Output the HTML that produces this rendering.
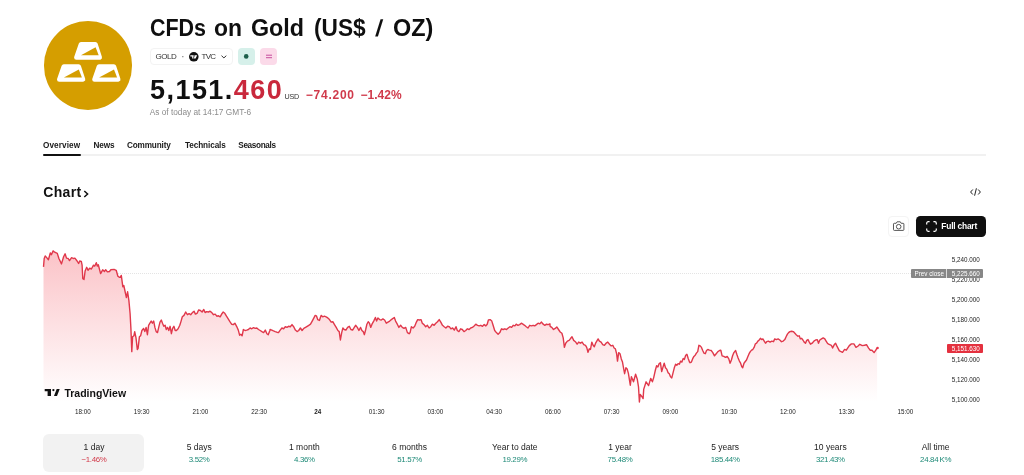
<!DOCTYPE html>
<html lang="en">
<head>
<meta charset="utf-8">
<title>CFDs on Gold (US$ / OZ)</title>
<style>
*{box-sizing:border-box;margin:0;padding:0}
html,body{width:1024px;height:475px;overflow:hidden;background:#fff}
body{font-family:"Liberation Sans",sans-serif;color:#131722;position:relative}
.t,.a{position:absolute;white-space:nowrap}
svg{position:absolute;overflow:visible}
</style>
</head>
<body>
<div class="a" style="left:43.500px;top:21.300px;width:88.700px;height:88.700px;border-radius:50%;background:#d59e00"></div>
<svg style="left:43.600px;top:21px" width="90" height="90" viewBox="0 0 90 90">
<g fill="#fff" stroke="#fff" stroke-width="4.600" stroke-linejoin="round">
<path d="M37 23.200H51.400L55.700 36.500H32.400Z"/>
<path d="M19.800 45.600H34.700L39 58.400H15.300Z"/>
<path d="M55 45.600H69.900L74.200 58.400H50.500Z"/>
</g>
<g fill="#d59e00">
<path d="M37 34.300L51.600 26.200L54.700 34.300Z"/>
<path d="M19.900 56.400L34.800 48.600L37.900 56.400Z"/>
<path d="M55.100 56.400L70 48.600L73.100 56.400Z"/>
</g>
</svg>
<h1 class="t" style="left:0;top:13.33px;width:600px;height:30px;font-size:23px;line-height:30px;font-weight:700;color:#0f0f0f"><span style="position:absolute;left:149.75px;top:0;transform:scaleX(0.933);transform-origin:0 50%">CFDs</span> <span style="position:absolute;left:214.20px;top:0;transform:scaleX(0.996);transform-origin:0 50%">on</span> <span style="position:absolute;left:250.99px;top:0;transform:scaleX(1.013);transform-origin:0 50%">Gold</span> <span style="position:absolute;left:314.41px;top:0;transform:scaleX(0.985);transform-origin:0 50%">(US$</span> <span style="position:absolute;left:376.300px;top:0;transform:skewX(-7deg);transform-origin:50% 50%">/</span> <span style="position:absolute;left:392.69px;top:0;transform:scaleX(1.018);transform-origin:0 50%">OZ)</span></h1>
<div class="a" style="left:150px;top:47.500px;width:82.500px;height:17.500px;border:1px solid #f3f3f3;border-radius:4px"></div>
<div class="t" style="left:155.5px;top:51.23px;font-size:8px;line-height:11px;font-weight:400;color:#333;letter-spacing:-0.5px;">GOLD</div>
<div class="t" style="left:181.8px;top:51.33px;font-size:7.7px;line-height:11px;font-weight:700;color:#777;">·</div>
<svg style="left:189.100px;top:51.500px" width="9.600" height="9.600" viewBox="0 0 10 10"><circle cx="5" cy="5" r="5" fill="#111"/><path d="M1.400 3.500H4.600V6.900H3.300V4.700H1.400ZM6.300 3.500H8.500L6.900 6.900H4.900Z" fill="#fff"/><circle cx="5.250" cy="4.100" r=".600" fill="#fff"/></svg>
<div class="t" style="left:201.6px;top:51.23px;font-size:8px;line-height:11px;font-weight:400;color:#333;letter-spacing:-0.75px;">TVC</div>
<svg style="left:221.400px;top:54.800px" width="6" height="4" viewBox="0 0 6 4"><path d="M0.500 0.700L2.900 2.900L5.300 0.700" fill="none" stroke="#333" stroke-width="1"/></svg>
<div class="a" style="left:237.700px;top:47.500px;width:17.500px;height:17.500px;border-radius:4px;background:#d6f0ea"></div>
<svg style="left:243px;top:53px" width="7" height="7" viewBox="0 0 7 7"><circle cx="3.200" cy="3.400" r="2.300" fill="#1d5f4b"/></svg>
<div class="a" style="left:259.800px;top:47.500px;width:17.500px;height:17.500px;border-radius:4px;background:#fbdae9"></div>
<svg style="left:265.500px;top:54px" width="6" height="5" viewBox="0 0 6 5"><path d="M0 1.200H6M0 3.700H6" stroke="#c4479a" stroke-width="0.950"/></svg>
<div class="t" style="left:150px;top:71.54px;font-size:27px;line-height:36px;font-weight:700;color:#0f0f0f;letter-spacing:1.45px;">5,151.<span style="color:#c9283c">460</span></div>
<div class="t" style="left:284.6px;top:92.31px;font-size:7.2px;line-height:10px;font-weight:400;color:#333;letter-spacing:-0.25px;">USD</div>
<div class="t" style="left:305.8px;top:86.74px;font-size:12px;line-height:16px;font-weight:700;color:#d03a4b;"><span style="letter-spacing:.75px">−74.200</span> <span style="position:absolute;left:54.600px;top:0;letter-spacing:.05px">−1.42%</span></div>
<div class="t" style="left:149.7px;top:106.82px;font-size:8.3px;line-height:11px;font-weight:400;color:#8c8c8c;">As of today at 14:17 GMT-6</div>
<div class="t" style="left:43px;top:139.66px;font-size:8.2px;line-height:11px;font-weight:700;color:#1a1a1a;letter-spacing:0.1px;">Overview</div>
<div class="t" style="left:93.5px;top:139.66px;font-size:8.2px;line-height:11px;font-weight:700;color:#1a1a1a;letter-spacing:-0.15px;">News</div>
<div class="t" style="left:127px;top:139.66px;font-size:8.2px;line-height:11px;font-weight:700;color:#1a1a1a;letter-spacing:-0.15px;">Community</div>
<div class="t" style="left:185px;top:139.66px;font-size:8.2px;line-height:11px;font-weight:700;color:#1a1a1a;letter-spacing:-0.1px;">Technicals</div>
<div class="t" style="left:238.3px;top:139.66px;font-size:8.2px;line-height:11px;font-weight:700;color:#1a1a1a;letter-spacing:-0.35px;">Seasonals</div>
<div class="a" style="left:43px;top:154px;width:943px;height:2px;background:#f1f1f1"></div>
<div class="a" style="left:43px;top:154px;width:37.500px;height:2px;background:#111;border-radius:1px"></div>
<div class="t" style="left:43.3px;top:183.05px;font-size:14px;line-height:19px;font-weight:700;color:#111;letter-spacing:0.3px;">Chart</div>
<svg style="left:83px;top:190px" width="6" height="8" viewBox="0 0 6 8"><path d="M1.300 1L4.600 4L1.300 7" fill="none" stroke="#111" stroke-width="1.500"/></svg>
<svg style="left:970px;top:188px" width="11" height="8" viewBox="0 0 11 8"><path d="M2.800 1.500L0.600 4L2.800 6.500M8.200 1.500L10.400 4L8.200 6.500M6.400 0.300L4.600 7.700" fill="none" stroke="#222" stroke-width="1"/></svg>
<div class="a" style="left:888.200px;top:215.600px;width:20.800px;height:21px;border:1px solid #f4f4f4;border-radius:4px"></div>
<svg style="left:893px;top:221px" width="11.400" height="10" viewBox="0 0 11.400 10"><path d="M1.300 2.300h1.900l.9-1.500h3.200l.9 1.500h1.900a.8.800 0 0 1 .8.800v5.500a.8.800 0 0 1-.8.800H1.300a.8.800 0 0 1-.8-.8V3.100a.8.800 0 0 1 .8-.8z" fill="none" stroke="#444" stroke-width="0.900"/><circle cx="5.700" cy="5.700" r="2.300" fill="none" stroke="#444" stroke-width="0.900"/></svg>
<div class="a" style="left:915.800px;top:215.600px;width:70.200px;height:21px;border-radius:4.500px;background:#0f0f0f"></div>
<svg style="left:925.800px;top:220.800px" width="11" height="11" viewBox="0 0 11 11"><path d="M0.700 3.600V2.200A1.500 1.500 0 0 1 2.200 0.700H3.600M7.400 0.700h1.400A1.500 1.500 0 0 1 10.300 2.200V3.600M10.300 7.400v1.400A1.500 1.500 0 0 1 8.800 10.300H7.400M3.600 10.300H2.200A1.500 1.500 0 0 1 0.700 8.800V7.400" fill="none" stroke="#fff" stroke-width="1.200"/></svg>
<div class="t" style="left:941.3px;top:220.59px;font-size:8.4px;line-height:11px;font-weight:700;color:#fff;letter-spacing:-0.2px;">Full chart</div>
<svg style="left:0;top:240px" width="1024" height="165" viewBox="0 240 1024 165">
<defs><linearGradient id="g" x1="0" y1="250" x2="0" y2="402" gradientUnits="userSpaceOnUse"><stop offset="0" stop-color="#f23645" stop-opacity="0.30"/><stop offset="1" stop-color="#f23645" stop-opacity="0"/></linearGradient></defs>
<line x1="118" y1="273.500" x2="911" y2="273.500" stroke="#e4e4e4" stroke-width="1" stroke-dasharray="1 1"/>
<path d="M43.5 266.9 L44.2 258.5 L45.2 255.9 L46.7 257.6 L48.4 259.7 L50.3 253 L51.4 254.7 L53.1 250.9 L54.7 252.2 L57.3 253.4 L58.9 258.5 L61.5 263.9 L63.6 256.8 L65.1 253.8 L66.5 258.1 L68.2 258.5 L69.5 260.6 L71.6 257.6 L73.3 258.5 L74.9 258.1 L77.1 261 L78.6 263.5 L79.7 261 L81.3 261.4 L82.1 265.2 L82.8 278.7 L84 279.5 L85.1 271.1 L86.7 267.3 L88 270.3 L89.7 268.2 L91.4 269 L93.5 265.2 L94.7 266.1 L96.3 262.7 L97.3 266.1 L98.3 264.8 L100.6 273.6 L102.7 269.8 L104.4 271.5 L105.7 269.8 L107.4 271.9 L109.5 271.5 L110.7 269.8 L114.1 269.4 L116.2 270.3 L117.9 276.2 L119.6 277.4 L120.3 277.4 L121.3 275.4 L122.8 286.7 L123.8 285.5 L125.4 293.0 L126.4 297.6 L127.6 291.8 L128.9 300.6 L130.1 313.7 L130.9 328.4 L131.8 351.6 L132.6 336.8 L133.9 335.8 L134.7 331.6 L136.0 337.9 L137.3 349.5 L138.1 348.4 L139.4 336.8 L140.6 335.8 L141.9 330.5 L143.6 328.4 L144.8 331.6 L146.1 327.4 L147.4 334.7 L148.6 325.3 L149.9 323.2 L151.2 321.1 L152.4 323.2 L153.7 321.1 L154.9 327.4 L156.2 331.6 L157.5 332.6 L158.7 327.4 L160.0 322.1 L161.3 320.0 L162.5 323.2 L163.8 326.3 L165.1 325.3 L166.3 329.5 L167.6 327.4 L168.8 330.5 L170.1 326.3 L171.4 333.7 L172.6 328.4 L173.9 326.3 L175.2 330.5 L176.4 330.5 L178.1 328.8 L179.8 325.3 L181.1 321.1 L182.3 316.8 L184.0 315.4 L185.7 312.0 L187.4 314.7 L189.1 313.7 L190.7 314.7 L192.4 312.6 L194.1 311.2 L195.4 314.1 L197.1 313.3 L198.7 309.9 L200.4 310.5 L202.1 312.0 L203.8 309.5 L205.1 312.6 L206.7 311.6 L208.4 312.0 L210.1 311.2 L211.8 312.6 L213.5 314.7 L215.2 314.1 L216.8 316.2 L218.5 315.8 L220.2 316.8 L221.9 313.7 L223.2 312.0 L224.8 313.3 L226.5 316.2 L228.2 318.9 L229.9 321.7 L231.6 324.2 L233.3 324.6 L234.9 323.2 L236.6 326.3 L238.3 330.1 L239.6 335.2 L240.8 334.3 L242.1 335.8 L243.4 329.5 L245.1 330.5 L246.7 330.1 L248.4 329.5 L250.1 328.0 L251.8 328.8 L253.5 327.6 L255.2 328.4 L256.8 328.0 L258.5 329.5 L260.2 330.5 L261.9 331.6 L263.6 332.6 L265.3 330.1 L266.9 333.7 L268.2 334.7 L269.9 330.5 L270.1 329.5 L271.8 330.1 L273.5 330.9 L275.2 331.6 L276.8 332.2 L278.5 332.6 L280.2 330.1 L281.9 328.0 L283.6 328.8 L285.3 326.7 L286.9 327.4 L288.6 326.3 L290.3 326.7 L292.0 324.6 L293.7 326.7 L295.4 330.1 L297.1 331.6 L298.7 330.5 L300.4 328.0 L302.1 330.5 L303.8 328.4 L305.5 327.4 L307.2 326.3 L308.8 325.3 L310.5 324.2 L312.2 321.1 L313.9 317.9 L315.2 315.4 L316.4 315.8 L317.7 319.6 L319.4 320.4 L321.1 315.4 L322.7 316.8 L324.4 316.2 L326.1 316.8 L327.8 317.9 L329.5 319.6 L331.2 322.1 L332.8 321.7 L334.5 324.6 L336.2 327.4 L337.9 330.5 L339.2 331.6 L340.4 340.0 L341.7 332.6 L342.9 328.0 L344.2 329.5 L345.9 330.1 L347.6 327.4 L349.3 326.3 L350.9 329.5 L352.6 330.1 L354.3 327.4 L355.6 325.3 L357.3 327.4 L358.9 330.5 L360.6 327.4 L361.9 330.5 L363.2 331.6 L364.4 334.7 L365.7 329.5 L366.9 324.2 L368.2 321.7 L369.5 323.2 L370.7 327.4 L372.0 324.2 L373.7 321.1 L375.4 317.5 L376.6 321.1 L377.9 317.9 L379.6 319.6 L381.3 320.0 L382.9 318.9 L384.6 320.0 L386.3 323.2 L388.0 322.1 L389.7 321.1 L391.4 319.6 L393.1 318.3 L394.3 317.5 L395.6 321.1 L397.3 324.2 L398.9 327.4 L400.6 325.3 L402.3 327.4 L404.0 328.4 L405.7 327.4 L407.4 332.6 L409.1 333.7 L410.1 332.6 L411.4 326.7 L413.1 328.0 L414.7 326.3 L416.4 322.1 L417.7 319.6 L419.4 320.0 L421.1 319.6 L422.3 323.2 L424.0 324.6 L425.7 326.7 L427.4 325.3 L429.1 328.0 L430.7 326.7 L432.4 324.2 L434.1 325.3 L435.8 323.2 L437.5 321.7 L439.2 319.6 L440.8 322.1 L442.5 325.3 L444.2 326.7 L445.9 328.0 L447.6 326.3 L449.3 326.7 L450.9 328.8 L452.6 328.0 L454.3 330.1 L456.0 326.7 L457.3 330.5 L458.9 331.6 L460.6 328.8 L462.3 329.5 L464.0 331.6 L465.7 330.5 L467.4 328.8 L469.1 329.5 L470.7 328.0 L472.4 327.4 L474.1 325.9 L475.8 324.2 L477.5 325.3 L479.2 325.9 L480.8 325.3 L482.5 326.3 L484.2 324.6 L485.9 325.9 L487.2 324.2 L488.4 320.0 L490.1 319.6 L491.8 321.1 L493.1 325.3 L494.7 330.5 L496.4 332.6 L498.1 334.3 L499.8 332.6 L501.5 328.8 L503.2 329.5 L504.8 328.8 L506.5 329.5 L508.2 328.0 L509.9 326.7 L511.6 327.4 L513.3 325.3 L514.9 325.9 L516.2 324.2 L517.9 325.3 L519.6 324.6 L521.3 323.2 L522.9 324.2 L524.6 325.3 L526.3 326.7 L528.0 328.0 L529.7 325.3 L531.4 325.9 L533.1 325.3 L534.7 325.9 L536.4 324.6 L538.1 323.2 L539.8 323.8 L541.5 322.1 L543.2 324.2 L544.8 325.3 L546.5 324.2 L548.2 324.6 L549.9 323.8 L550.1 326.3 L551.8 327.4 L553.5 329.5 L555.2 328.4 L556.8 326.9 L558.5 329.5 L560.2 332.0 L561.9 333.3 L563.2 337.9 L564.4 347.4 L565.7 343.2 L567.4 341.1 L569.1 340.4 L570.7 338.3 L572.0 336.8 L573.7 340.4 L575.4 341.7 L577.1 344.2 L578.7 342.1 L580.4 343.2 L582.1 342.1 L583.8 344.6 L585.5 345.3 L586.7 347.4 L588.0 352.2 L589.3 348.8 L590.5 349.5 L591.8 342.1 L593.1 345.3 L594.3 346.7 L595.6 343.2 L596.8 341.1 L598.1 338.9 L599.4 341.1 L601.1 342.1 L602.7 344.6 L604.4 345.3 L606.1 343.2 L607.8 342.1 L609.5 344.2 L611.2 345.9 L612.8 345.3 L614.1 348.0 L615.4 348.8 L616.6 353.7 L617.5 361.1 L618.7 352.6 L620.0 353.7 L621.3 358.9 L622.5 362.1 L623.8 369.5 L624.6 373.7 L625.9 367.8 L627.2 369.1 L628.4 373.4 L630.3 385.2 L631.4 376.7 L633.5 381.8 L635.6 374.2 L637.3 379.3 L638.5 386.8 L639.4 402 L640.2 394.4 L642.1 396.9 L643.1 398.6 L643.7 389.4 L646.1 381.8 L648.6 385.6 L650.7 378.4 L652.4 381.8 L653.7 377.6 L655.4 370 L656.6 365.7 L657.9 366.9 L659.2 363.6 L660.4 362.7 L661.7 371.6 L662.9 367.4 L664.2 363.2 L665.5 367.8 L666.7 369.1 L668.0 372.6 L669.3 373.7 L670.5 376.8 L671.8 377.9 L673.1 372.6 L674.3 367.8 L675.6 364.2 L676.8 365.3 L678.1 363.6 L679.4 364.2 L680.6 361.1 L681.9 362.1 L683.2 358.5 L684.4 359.4 L685.7 355.2 L686.9 354.3 L688.2 358.5 L689.5 362.1 L690.1 362.7 L691.4 362.1 L692.6 358.9 L693.9 356.4 L695.2 355.2 L696.4 353.1 L697.7 351.6 L698.9 345.3 L700.2 345.9 L701.5 347.4 L702.7 350.5 L704.0 353.1 L705.3 353.7 L706.5 350.5 L707.8 349.5 L709.5 350.1 L711.2 350.5 L712.8 352.6 L714.5 355.8 L716.2 353.7 L717.9 351.6 L719.6 350.5 L720.8 350.1 L722.1 355.8 L723.8 356.4 L725.5 357.3 L727.2 356.4 L728.8 358.9 L730.1 363.2 L731.4 360.0 L732.6 355.8 L733.9 352.6 L735.6 350.5 L736.8 354.3 L738.1 357.9 L739.4 361.1 L740.6 363.2 L741.9 366.9 L742.7 367.8 L744.0 363.2 L745.3 361.5 L746.5 360.0 L747.8 356.8 L749.1 353.7 L750.3 351.6 L751.6 350.1 L752.8 349.5 L754.1 347.4 L755.4 343.8 L756.6 343.2 L757.9 341.1 L759.2 340.0 L760.4 338.3 L761.7 339.6 L762.9 338.9 L764.2 341.1 L765.5 343.2 L766.7 341.7 L768.4 341.1 L770.1 342.1 L771.8 341.1 L773.5 341.7 L774.7 338.9 L776.4 339.6 L778.1 338.9 L779.8 340.0 L781.5 341.7 L783.2 341.1 L784.8 339.6 L786.1 336.8 L787.4 334.1 L788.6 332.6 L789.9 331.6 L791.6 331.2 L793.3 331.6 L794.9 333.3 L796.2 334.7 L797.9 336.2 L799.2 335.8 L800.4 338.9 L801.7 338.3 L802.9 340.0 L804.2 342.1 L805.5 343.2 L806.7 340.4 L808.0 339.6 L809.3 342.1 L810.5 344.2 L812.2 343.2 L813.9 341.1 L815.6 340.0 L817.3 339.6 L818.5 343.2 L819.8 340.0 L821.5 338.9 L823.2 337.9 L824.8 338.9 L826.1 341.1 L827.4 343.2 L828.6 344.2 L831.4 345.3 L832.6 348.0 L834.3 344.6 L835.6 343.2 L836.8 345.9 L838.1 348.4 L839.4 350.9 L840.0 351.1 L842.5 352.3 L844.6 349.4 L846.3 350.2 L849.3 345.6 L851.4 343.9 L853.9 343.9 L856.0 347.3 L858.1 346.0 L859.8 344.3 L862.3 345.6 L864.4 345.2 L866.5 344.7 L868.6 348.1 L870.3 350.2 L872.0 350.2 L874.1 352.6 L875.8 350.2 L877.1 347.9 L877.1 403 L43.5 403 Z" fill="url(#g)"/>
<path d="M43.5 266.9 L44.2 258.5 L45.2 255.9 L46.7 257.6 L48.4 259.7 L50.3 253 L51.4 254.7 L53.1 250.9 L54.7 252.2 L57.3 253.4 L58.9 258.5 L61.5 263.9 L63.6 256.8 L65.1 253.8 L66.5 258.1 L68.2 258.5 L69.5 260.6 L71.6 257.6 L73.3 258.5 L74.9 258.1 L77.1 261 L78.6 263.5 L79.7 261 L81.3 261.4 L82.1 265.2 L82.8 278.7 L84 279.5 L85.1 271.1 L86.7 267.3 L88 270.3 L89.7 268.2 L91.4 269 L93.5 265.2 L94.7 266.1 L96.3 262.7 L97.3 266.1 L98.3 264.8 L100.6 273.6 L102.7 269.8 L104.4 271.5 L105.7 269.8 L107.4 271.9 L109.5 271.5 L110.7 269.8 L114.1 269.4 L116.2 270.3 L117.9 276.2 L119.6 277.4 L120.3 277.4 L121.3 275.4 L122.8 286.7 L123.8 285.5 L125.4 293.0 L126.4 297.6 L127.6 291.8 L128.9 300.6 L130.1 313.7 L130.9 328.4 L131.8 351.6 L132.6 336.8 L133.9 335.8 L134.7 331.6 L136.0 337.9 L137.3 349.5 L138.1 348.4 L139.4 336.8 L140.6 335.8 L141.9 330.5 L143.6 328.4 L144.8 331.6 L146.1 327.4 L147.4 334.7 L148.6 325.3 L149.9 323.2 L151.2 321.1 L152.4 323.2 L153.7 321.1 L154.9 327.4 L156.2 331.6 L157.5 332.6 L158.7 327.4 L160.0 322.1 L161.3 320.0 L162.5 323.2 L163.8 326.3 L165.1 325.3 L166.3 329.5 L167.6 327.4 L168.8 330.5 L170.1 326.3 L171.4 333.7 L172.6 328.4 L173.9 326.3 L175.2 330.5 L176.4 330.5 L178.1 328.8 L179.8 325.3 L181.1 321.1 L182.3 316.8 L184.0 315.4 L185.7 312.0 L187.4 314.7 L189.1 313.7 L190.7 314.7 L192.4 312.6 L194.1 311.2 L195.4 314.1 L197.1 313.3 L198.7 309.9 L200.4 310.5 L202.1 312.0 L203.8 309.5 L205.1 312.6 L206.7 311.6 L208.4 312.0 L210.1 311.2 L211.8 312.6 L213.5 314.7 L215.2 314.1 L216.8 316.2 L218.5 315.8 L220.2 316.8 L221.9 313.7 L223.2 312.0 L224.8 313.3 L226.5 316.2 L228.2 318.9 L229.9 321.7 L231.6 324.2 L233.3 324.6 L234.9 323.2 L236.6 326.3 L238.3 330.1 L239.6 335.2 L240.8 334.3 L242.1 335.8 L243.4 329.5 L245.1 330.5 L246.7 330.1 L248.4 329.5 L250.1 328.0 L251.8 328.8 L253.5 327.6 L255.2 328.4 L256.8 328.0 L258.5 329.5 L260.2 330.5 L261.9 331.6 L263.6 332.6 L265.3 330.1 L266.9 333.7 L268.2 334.7 L269.9 330.5 L270.1 329.5 L271.8 330.1 L273.5 330.9 L275.2 331.6 L276.8 332.2 L278.5 332.6 L280.2 330.1 L281.9 328.0 L283.6 328.8 L285.3 326.7 L286.9 327.4 L288.6 326.3 L290.3 326.7 L292.0 324.6 L293.7 326.7 L295.4 330.1 L297.1 331.6 L298.7 330.5 L300.4 328.0 L302.1 330.5 L303.8 328.4 L305.5 327.4 L307.2 326.3 L308.8 325.3 L310.5 324.2 L312.2 321.1 L313.9 317.9 L315.2 315.4 L316.4 315.8 L317.7 319.6 L319.4 320.4 L321.1 315.4 L322.7 316.8 L324.4 316.2 L326.1 316.8 L327.8 317.9 L329.5 319.6 L331.2 322.1 L332.8 321.7 L334.5 324.6 L336.2 327.4 L337.9 330.5 L339.2 331.6 L340.4 340.0 L341.7 332.6 L342.9 328.0 L344.2 329.5 L345.9 330.1 L347.6 327.4 L349.3 326.3 L350.9 329.5 L352.6 330.1 L354.3 327.4 L355.6 325.3 L357.3 327.4 L358.9 330.5 L360.6 327.4 L361.9 330.5 L363.2 331.6 L364.4 334.7 L365.7 329.5 L366.9 324.2 L368.2 321.7 L369.5 323.2 L370.7 327.4 L372.0 324.2 L373.7 321.1 L375.4 317.5 L376.6 321.1 L377.9 317.9 L379.6 319.6 L381.3 320.0 L382.9 318.9 L384.6 320.0 L386.3 323.2 L388.0 322.1 L389.7 321.1 L391.4 319.6 L393.1 318.3 L394.3 317.5 L395.6 321.1 L397.3 324.2 L398.9 327.4 L400.6 325.3 L402.3 327.4 L404.0 328.4 L405.7 327.4 L407.4 332.6 L409.1 333.7 L410.1 332.6 L411.4 326.7 L413.1 328.0 L414.7 326.3 L416.4 322.1 L417.7 319.6 L419.4 320.0 L421.1 319.6 L422.3 323.2 L424.0 324.6 L425.7 326.7 L427.4 325.3 L429.1 328.0 L430.7 326.7 L432.4 324.2 L434.1 325.3 L435.8 323.2 L437.5 321.7 L439.2 319.6 L440.8 322.1 L442.5 325.3 L444.2 326.7 L445.9 328.0 L447.6 326.3 L449.3 326.7 L450.9 328.8 L452.6 328.0 L454.3 330.1 L456.0 326.7 L457.3 330.5 L458.9 331.6 L460.6 328.8 L462.3 329.5 L464.0 331.6 L465.7 330.5 L467.4 328.8 L469.1 329.5 L470.7 328.0 L472.4 327.4 L474.1 325.9 L475.8 324.2 L477.5 325.3 L479.2 325.9 L480.8 325.3 L482.5 326.3 L484.2 324.6 L485.9 325.9 L487.2 324.2 L488.4 320.0 L490.1 319.6 L491.8 321.1 L493.1 325.3 L494.7 330.5 L496.4 332.6 L498.1 334.3 L499.8 332.6 L501.5 328.8 L503.2 329.5 L504.8 328.8 L506.5 329.5 L508.2 328.0 L509.9 326.7 L511.6 327.4 L513.3 325.3 L514.9 325.9 L516.2 324.2 L517.9 325.3 L519.6 324.6 L521.3 323.2 L522.9 324.2 L524.6 325.3 L526.3 326.7 L528.0 328.0 L529.7 325.3 L531.4 325.9 L533.1 325.3 L534.7 325.9 L536.4 324.6 L538.1 323.2 L539.8 323.8 L541.5 322.1 L543.2 324.2 L544.8 325.3 L546.5 324.2 L548.2 324.6 L549.9 323.8 L550.1 326.3 L551.8 327.4 L553.5 329.5 L555.2 328.4 L556.8 326.9 L558.5 329.5 L560.2 332.0 L561.9 333.3 L563.2 337.9 L564.4 347.4 L565.7 343.2 L567.4 341.1 L569.1 340.4 L570.7 338.3 L572.0 336.8 L573.7 340.4 L575.4 341.7 L577.1 344.2 L578.7 342.1 L580.4 343.2 L582.1 342.1 L583.8 344.6 L585.5 345.3 L586.7 347.4 L588.0 352.2 L589.3 348.8 L590.5 349.5 L591.8 342.1 L593.1 345.3 L594.3 346.7 L595.6 343.2 L596.8 341.1 L598.1 338.9 L599.4 341.1 L601.1 342.1 L602.7 344.6 L604.4 345.3 L606.1 343.2 L607.8 342.1 L609.5 344.2 L611.2 345.9 L612.8 345.3 L614.1 348.0 L615.4 348.8 L616.6 353.7 L617.5 361.1 L618.7 352.6 L620.0 353.7 L621.3 358.9 L622.5 362.1 L623.8 369.5 L624.6 373.7 L625.9 367.8 L627.2 369.1 L628.4 373.4 L630.3 385.2 L631.4 376.7 L633.5 381.8 L635.6 374.2 L637.3 379.3 L638.5 386.8 L639.4 402 L640.2 394.4 L642.1 396.9 L643.1 398.6 L643.7 389.4 L646.1 381.8 L648.6 385.6 L650.7 378.4 L652.4 381.8 L653.7 377.6 L655.4 370 L656.6 365.7 L657.9 366.9 L659.2 363.6 L660.4 362.7 L661.7 371.6 L662.9 367.4 L664.2 363.2 L665.5 367.8 L666.7 369.1 L668.0 372.6 L669.3 373.7 L670.5 376.8 L671.8 377.9 L673.1 372.6 L674.3 367.8 L675.6 364.2 L676.8 365.3 L678.1 363.6 L679.4 364.2 L680.6 361.1 L681.9 362.1 L683.2 358.5 L684.4 359.4 L685.7 355.2 L686.9 354.3 L688.2 358.5 L689.5 362.1 L690.1 362.7 L691.4 362.1 L692.6 358.9 L693.9 356.4 L695.2 355.2 L696.4 353.1 L697.7 351.6 L698.9 345.3 L700.2 345.9 L701.5 347.4 L702.7 350.5 L704.0 353.1 L705.3 353.7 L706.5 350.5 L707.8 349.5 L709.5 350.1 L711.2 350.5 L712.8 352.6 L714.5 355.8 L716.2 353.7 L717.9 351.6 L719.6 350.5 L720.8 350.1 L722.1 355.8 L723.8 356.4 L725.5 357.3 L727.2 356.4 L728.8 358.9 L730.1 363.2 L731.4 360.0 L732.6 355.8 L733.9 352.6 L735.6 350.5 L736.8 354.3 L738.1 357.9 L739.4 361.1 L740.6 363.2 L741.9 366.9 L742.7 367.8 L744.0 363.2 L745.3 361.5 L746.5 360.0 L747.8 356.8 L749.1 353.7 L750.3 351.6 L751.6 350.1 L752.8 349.5 L754.1 347.4 L755.4 343.8 L756.6 343.2 L757.9 341.1 L759.2 340.0 L760.4 338.3 L761.7 339.6 L762.9 338.9 L764.2 341.1 L765.5 343.2 L766.7 341.7 L768.4 341.1 L770.1 342.1 L771.8 341.1 L773.5 341.7 L774.7 338.9 L776.4 339.6 L778.1 338.9 L779.8 340.0 L781.5 341.7 L783.2 341.1 L784.8 339.6 L786.1 336.8 L787.4 334.1 L788.6 332.6 L789.9 331.6 L791.6 331.2 L793.3 331.6 L794.9 333.3 L796.2 334.7 L797.9 336.2 L799.2 335.8 L800.4 338.9 L801.7 338.3 L802.9 340.0 L804.2 342.1 L805.5 343.2 L806.7 340.4 L808.0 339.6 L809.3 342.1 L810.5 344.2 L812.2 343.2 L813.9 341.1 L815.6 340.0 L817.3 339.6 L818.5 343.2 L819.8 340.0 L821.5 338.9 L823.2 337.9 L824.8 338.9 L826.1 341.1 L827.4 343.2 L828.6 344.2 L831.4 345.3 L832.6 348.0 L834.3 344.6 L835.6 343.2 L836.8 345.9 L838.1 348.4 L839.4 350.9 L840.0 351.1 L842.5 352.3 L844.6 349.4 L846.3 350.2 L849.3 345.6 L851.4 343.9 L853.9 343.9 L856.0 347.3 L858.1 346.0 L859.8 344.3 L862.3 345.6 L864.4 345.2 L866.5 344.7 L868.6 348.1 L870.3 350.2 L872.0 350.2 L874.1 352.6 L875.8 350.2 L877.1 347.9" fill="none" stroke="#e0384b" stroke-width="1.400" stroke-linejoin="round"/>
<circle cx="877.600" cy="348" r="1.200" fill="#e8364a"/>
<path d="M44.700 388.900H51V396.100H47.600V391.200H44.700Z" fill="#111"/>
<circle cx="53.400" cy="390.100" r="1.150" fill="#111"/>
<path d="M56.700 388.900H59.700L57 396.100H54Z" fill="#111"/>
</svg>
<div class="t" style="left:64.4px;top:385.76px;font-size:10.5px;line-height:14px;font-weight:700;color:#111;">TradingView</div>
<div class="t" style="right:44.200000000000045px;top:254.92px;font-size:6.3px;line-height:9px;font-weight:400;color:#222;">5,240.000</div>
<div class="t" style="right:44.200000000000045px;top:274.97px;font-size:6.3px;line-height:9px;font-weight:400;color:#222;">5,220.000</div>
<div class="t" style="right:44.200000000000045px;top:295.02px;font-size:6.3px;line-height:9px;font-weight:400;color:#222;">5,200.000</div>
<div class="t" style="right:44.200000000000045px;top:315.07px;font-size:6.3px;line-height:9px;font-weight:400;color:#222;">5,180.000</div>
<div class="t" style="right:44.200000000000045px;top:335.12px;font-size:6.3px;line-height:9px;font-weight:400;color:#222;">5,160.000</div>
<div class="t" style="right:44.200000000000045px;top:355.17px;font-size:6.3px;line-height:9px;font-weight:400;color:#222;">5,140.000</div>
<div class="t" style="right:44.200000000000045px;top:375.22px;font-size:6.3px;line-height:9px;font-weight:400;color:#222;">5,120.000</div>
<div class="t" style="right:44.200000000000045px;top:395.27px;font-size:6.3px;line-height:9px;font-weight:400;color:#222;">5,100.000</div>
<div class="a" style="left:911.400px;top:269.200px;width:71.300px;height:9.200px;background:#878787;border-radius:1px"></div>
<div class="a" style="left:946px;top:269.200px;width:1px;height:9.200px;background:#fff;opacity:.7"></div>
<div class="t" style="left:914.5px;top:269.32px;font-size:6.3px;line-height:9px;font-weight:400;color:#fff;">Prev close</div>
<div class="t" style="right:44.200000000000045px;top:269.32px;font-size:6.3px;line-height:9px;font-weight:400;color:#fff;">5,225.660</div>
<div class="a" style="left:946.600px;top:344px;width:36.400px;height:8.800px;background:#e4313f;border-radius:1px"></div>
<div class="t" style="right:44.200000000000045px;top:343.72px;font-size:6.3px;line-height:9px;font-weight:400;color:#fff;">5,151.630</div>
<div class="t" style="left:-17.200000000000003px;width:200px;text-align:center;top:406.92px;font-size:6.3px;line-height:9px;font-weight:400;color:#222;">18:00</div>
<div class="t" style="left:41.55000000000001px;width:200px;text-align:center;top:406.92px;font-size:6.3px;line-height:9px;font-weight:400;color:#222;">19:30</div>
<div class="t" style="left:100.30000000000001px;width:200px;text-align:center;top:406.92px;font-size:6.3px;line-height:9px;font-weight:400;color:#222;">21:00</div>
<div class="t" style="left:159.05px;width:200px;text-align:center;top:406.92px;font-size:6.3px;line-height:9px;font-weight:400;color:#222;">22:30</div>
<div class="t" style="left:217.8px;width:200px;text-align:center;top:406.92px;font-size:6.3px;line-height:9px;font-weight:700;color:#222;">24</div>
<div class="t" style="left:276.55px;width:200px;text-align:center;top:406.92px;font-size:6.3px;line-height:9px;font-weight:400;color:#222;">01:30</div>
<div class="t" style="left:335.3px;width:200px;text-align:center;top:406.92px;font-size:6.3px;line-height:9px;font-weight:400;color:#222;">03:00</div>
<div class="t" style="left:394.05px;width:200px;text-align:center;top:406.92px;font-size:6.3px;line-height:9px;font-weight:400;color:#222;">04:30</div>
<div class="t" style="left:452.79999999999995px;width:200px;text-align:center;top:406.92px;font-size:6.3px;line-height:9px;font-weight:400;color:#222;">06:00</div>
<div class="t" style="left:511.54999999999995px;width:200px;text-align:center;top:406.92px;font-size:6.3px;line-height:9px;font-weight:400;color:#222;">07:30</div>
<div class="t" style="left:570.3px;width:200px;text-align:center;top:406.92px;font-size:6.3px;line-height:9px;font-weight:400;color:#222;">09:00</div>
<div class="t" style="left:629.05px;width:200px;text-align:center;top:406.92px;font-size:6.3px;line-height:9px;font-weight:400;color:#222;">10:30</div>
<div class="t" style="left:687.8px;width:200px;text-align:center;top:406.92px;font-size:6.3px;line-height:9px;font-weight:400;color:#222;">12:00</div>
<div class="t" style="left:746.55px;width:200px;text-align:center;top:406.92px;font-size:6.3px;line-height:9px;font-weight:400;color:#222;">13:30</div>
<div class="t" style="left:805.3px;width:200px;text-align:center;top:406.92px;font-size:6.3px;line-height:9px;font-weight:400;color:#222;">15:00</div>
<div class="a" style="left:43.400px;top:433.500px;width:100.600px;height:38.500px;border-radius:6px;background:#f2f2f2"></div>
<div class="t" style="left:-6.0px;width:200px;text-align:center;top:440.85px;font-size:8.5px;line-height:12px;font-weight:400;color:#1a1a1a;">1 day</div>
<div class="t" style="left:-6.0px;width:200px;text-align:center;top:454.26px;font-size:7.9px;line-height:11px;font-weight:400;color:#d23a4a;letter-spacing:-0.33px;">−1.46%</div>
<div class="t" style="left:99.19999999999999px;width:200px;text-align:center;top:440.85px;font-size:8.5px;line-height:12px;font-weight:400;color:#1a1a1a;">5 days</div>
<div class="t" style="left:99.19999999999999px;width:200px;text-align:center;top:454.26px;font-size:7.9px;line-height:11px;font-weight:400;color:#1f8a78;letter-spacing:-0.33px;">3.52%</div>
<div class="t" style="left:204.39999999999998px;width:200px;text-align:center;top:440.85px;font-size:8.5px;line-height:12px;font-weight:400;color:#1a1a1a;">1 month</div>
<div class="t" style="left:204.39999999999998px;width:200px;text-align:center;top:454.26px;font-size:7.9px;line-height:11px;font-weight:400;color:#1f8a78;letter-spacing:-0.33px;">4.36%</div>
<div class="t" style="left:309.6px;width:200px;text-align:center;top:440.85px;font-size:8.5px;line-height:12px;font-weight:400;color:#1a1a1a;">6 months</div>
<div class="t" style="left:309.6px;width:200px;text-align:center;top:454.26px;font-size:7.9px;line-height:11px;font-weight:400;color:#1f8a78;letter-spacing:-0.33px;">51.57%</div>
<div class="t" style="left:414.79999999999995px;width:200px;text-align:center;top:440.85px;font-size:8.5px;line-height:12px;font-weight:400;color:#1a1a1a;">Year to date</div>
<div class="t" style="left:414.79999999999995px;width:200px;text-align:center;top:454.26px;font-size:7.9px;line-height:11px;font-weight:400;color:#1f8a78;letter-spacing:-0.33px;">19.29%</div>
<div class="t" style="left:520.0px;width:200px;text-align:center;top:440.85px;font-size:8.5px;line-height:12px;font-weight:400;color:#1a1a1a;">1 year</div>
<div class="t" style="left:520.0px;width:200px;text-align:center;top:454.26px;font-size:7.9px;line-height:11px;font-weight:400;color:#1f8a78;letter-spacing:-0.33px;">75.48%</div>
<div class="t" style="left:625.2px;width:200px;text-align:center;top:440.85px;font-size:8.5px;line-height:12px;font-weight:400;color:#1a1a1a;">5 years</div>
<div class="t" style="left:625.2px;width:200px;text-align:center;top:454.26px;font-size:7.9px;line-height:11px;font-weight:400;color:#1f8a78;letter-spacing:-0.33px;">185.44%</div>
<div class="t" style="left:730.4px;width:200px;text-align:center;top:440.85px;font-size:8.5px;line-height:12px;font-weight:400;color:#1a1a1a;">10 years</div>
<div class="t" style="left:730.4px;width:200px;text-align:center;top:454.26px;font-size:7.9px;line-height:11px;font-weight:400;color:#1f8a78;letter-spacing:-0.33px;">321.43%</div>
<div class="t" style="left:835.6px;width:200px;text-align:center;top:440.85px;font-size:8.5px;line-height:12px;font-weight:400;color:#1a1a1a;">All time</div>
<div class="t" style="left:835.6px;width:200px;text-align:center;top:454.26px;font-size:7.9px;line-height:11px;font-weight:400;color:#1f8a78;letter-spacing:-0.33px;">24.84&thinsp;K%</div>
</body>
</html>
